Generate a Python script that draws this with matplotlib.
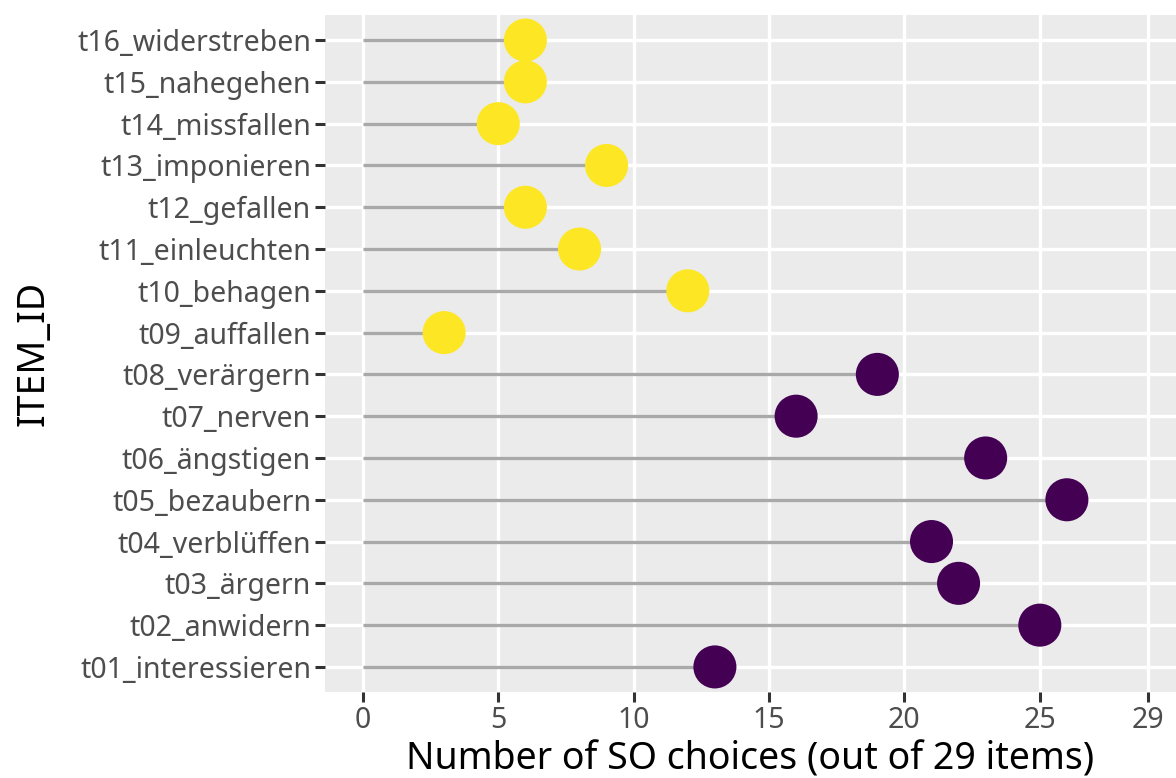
import matplotlib
matplotlib.use("Agg")
import matplotlib.pyplot as plt

items = ["t01_interessieren", "t02_anwidern", "t03_ärgern", "t04_verblüffen",
         "t05_bezaubern", "t06_ängstigen", "t07_nerven", "t08_verärgern",
         "t09_auffallen", "t10_behagen", "t11_einleuchten", "t12_gefallen",
         "t13_imponieren", "t14_missfallen", "t15_nahegehen", "t16_widerstreben"]
so_choices = [13, 25, 22, 21, 26, 23, 16, 19, 3, 12, 8, 6, 9, 5, 6, 6]
group = ["neg"] * 8 + ["pos"] * 8
group_colors = {"neg": "#440154", "pos": "#FDE725"}
x_ticks = [0, 5, 10, 15, 20, 25, 29]

plt.rcParams['font.family'] = ['Noto Sans', 'DejaVu Sans']

fig = plt.figure(figsize=(11.76, 7.78), dpi=100)
ax = fig.add_axes([325/1176, 86/778, 1 - 325/1176, (692-15)/778])
ax.set_facecolor("#EBEBEB")

ypos = list(range(1, len(items) + 1))
for y in ypos:
    ax.axhline(y, color="white", lw=2.4, zorder=0)
for t in x_ticks:
    ax.axvline(t, color="white", lw=2.4, zorder=0)

ax.hlines(ypos, 0, so_choices, color="#A9A9A9", lw=2.4, zorder=2)
ax.scatter(so_choices, ypos, s=31**2, c=[group_colors[g] for g in group],
           zorder=3, linewidths=0)

ax.set_xlim(-1.4, 30.03)
ax.set_ylim(0.4, 16.6)
ax.set_xticks(x_ticks)
ax.set_xticklabels([str(t) for t in x_ticks])
ax.set_yticks(ypos)
ax.set_yticklabels(items)
for s in ax.spines.values():
    s.set_visible(False)
ax.tick_params(axis="both", length=7, width=2.2, color="#333333",
               labelcolor="#4D4D4D", labelsize=20.5, pad=3)
ax.set_xlabel("Number of SO choices (out of 29 items)", fontsize=27, color="black", labelpad=4)
ax.set_ylabel("ITEM_ID", fontsize=27, color="black", labelpad=18)

fig.savefig("out.png", dpi=100)
